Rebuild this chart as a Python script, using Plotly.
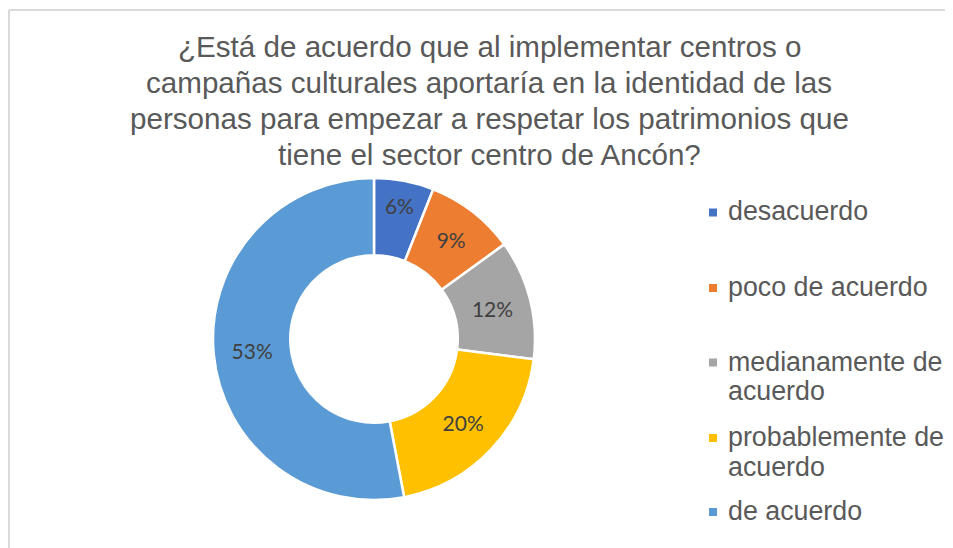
import plotly.graph_objects as go

# page has an 8px body margin; figure sized to fit the 953x548 window
OFF = 8
W, H = 953 - OFF, 548 - OFF

categories = ["desacuerdo", "poco de acuerdo", "medianamente de acuerdo",
              "probablemente de acuerdo", "de acuerdo"]
legend_lines = [["desacuerdo"], ["poco de acuerdo"], ["medianamente de", "acuerdo"],
                ["probablemente de", "acuerdo"], ["de acuerdo"]]
values = [6, 9, 12, 20, 53]
colors = ["#4472C4", "#ED7D31", "#A5A5A5", "#FFC000", "#5B9BD5"]
title_lines = [
    "¿Está de acuerdo que al implementar centros o",
    "campañas culturales aportaría en la identidad de las",
    "personas para empezar a respetar los patrimonios que",
    "tiene el sector centro de Ancón?",
]

def px(x):
    return (x - OFF) / W

def py(y):
    return 1 - (y - OFF) / H

fig = go.Figure()
fig.add_trace(go.Pie(
    labels=categories,
    values=values,
    hole=0.52,
    sort=False,
    direction="clockwise",
    rotation=0,
    marker=dict(colors=colors, line=dict(color="white", width=2.5)),
    textinfo="percent",
    texttemplate="%{percent:.0%}",
    textposition="inside",
    insidetextorientation="horizontal",
    textfont=dict(family="Lato", size=21, color="#404040"),
    showlegend=False,
    hoverinfo="label+percent",
    domain=dict(x=[px(213), px(535)], y=[py(500), py(178)]),
))

annotations = []
title_y = [47, 83, 119, 155]
for t, y in zip(title_lines, title_y):
    annotations.append(dict(
        text=t, x=px(489), y=py(y), xref="paper", yref="paper",
        xanchor="center", yanchor="middle", showarrow=False,
        font=dict(family="Liberation Sans", size=29.6, color="#595959"),
    ))

shapes = []
marker_y = [212.5, 288, 362.5, 438, 512]
for lines, my, c in zip(legend_lines, marker_y, colors):
    shapes.append(dict(type="rect", xref="paper", yref="paper",
                       x0=px(709), x1=px(717), y0=py(my + 4), y1=py(my - 4),
                       fillcolor=c, line=dict(width=0)))
    for i, ln in enumerate(lines):
        annotations.append(dict(
            text=ln, x=px(726), y=py(my + i * 29.5 - 1), xref="paper", yref="paper",
            xanchor="left", yanchor="middle", showarrow=False,
            font=dict(family="Liberation Sans", size=26.8, color="#595959"),
        ))

# chart area border (top and left edges visible)
edge_x = 1.0 / W
shapes.append(dict(type="line", xref="paper", yref="paper",
                   x0=edge_x, x1=1, y0=py(10), y1=py(10),
                   line=dict(color="#D9D9D9", width=2)))
shapes.append(dict(type="line", xref="paper", yref="paper",
                   x0=edge_x, x1=edge_x, y0=py(10), y1=0,
                   line=dict(color="#D9D9D9", width=2)))

fig.update_layout(
    width=W, height=H,
    margin=dict(l=0, r=0, t=0, b=0),
    paper_bgcolor="white",
    plot_bgcolor="white",
    annotations=annotations,
    shapes=shapes,
)

fig.write_html("out.html")
